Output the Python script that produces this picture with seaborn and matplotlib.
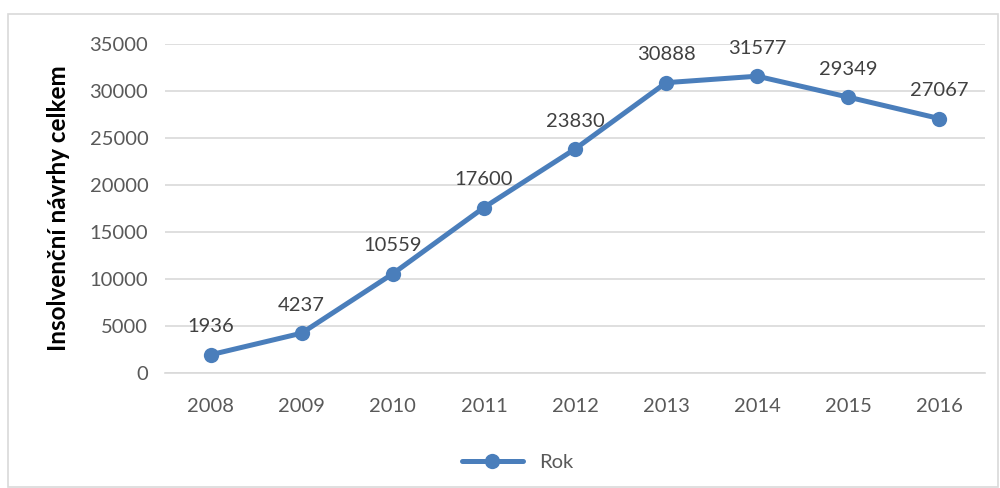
import matplotlib
matplotlib.use("Agg")
import matplotlib.pyplot as plt
import pandas as pd
import seaborn as sns
from matplotlib.patches import Rectangle

years = [2008, 2009, 2010, 2011, 2012, 2013, 2014, 2015, 2016]
navrhy = [1936, 4237, 10559, 17600, 23830, 30888, 31577, 29349, 27067]
yticks = [0, 5000, 10000, 15000, 20000, 25000, 30000, 35000]

df = pd.DataFrame({"rok": years, "navrhy": navrhy})

sns.set_theme(style="white")
plt.rcParams["font.family"] = ["Lato", "DejaVu Sans"]

BLUE = "#4A7EBB"
GREY = "#595959"

fig = plt.figure(figsize=(10, 4.88), dpi=100)
ax = fig.add_axes([0.165, 0.2357, 0.82, 0.6741])

sns.lineplot(data=df, x="rok", y="navrhy", ax=ax, color=BLUE, linewidth=3.6,
             marker="o", markersize=11, markeredgewidth=0, label="Rok")

for x, y in zip(years, navrhy):
    ax.annotate(str(y), (x, y), xytext=(0, 14), textcoords="offset points",
                ha="center", va="bottom", fontsize=14.5, color="#404040")

ax.set_xlim(years[0] - 0.5, years[-1] + 0.5)
ax.set_ylim(0, 35000)
ax.set_xticks(years)
ax.set_yticks(yticks)
ax.set_xticklabels([str(y) for y in years])
ax.tick_params(axis="both", labelsize=14.5, colors=GREY, length=0)
ax.tick_params(axis="y", pad=12)
ax.tick_params(axis="x", pad=18)
ax.yaxis.grid(True, color="#D9D9D9", linewidth=1.2)
ax.set_axisbelow(True)
for s in ["top", "right", "left"]:
    ax.spines[s].set_visible(False)
ax.spines["bottom"].set_color("#D9D9D9")
ax.spines["bottom"].set_linewidth(1.2)

ax.set_xlabel("")
ax.set_ylabel("Insolvenční návrhy celkem", fontsize=17.5, fontweight="bold",
              color="black", labelpad=14)

leg = ax.legend(loc="upper center", bbox_to_anchor=(0.43, -0.19), frameon=False,
                fontsize=14.5, handlelength=3, labelcolor=GREY)

fig.patches.append(Rectangle((0.008, 0.002), 0.99, 0.969, transform=fig.transFigure,
                             fill=False, edgecolor="#D9D9D9", linewidth=1.2))

fig.savefig("out.png", dpi=100)
